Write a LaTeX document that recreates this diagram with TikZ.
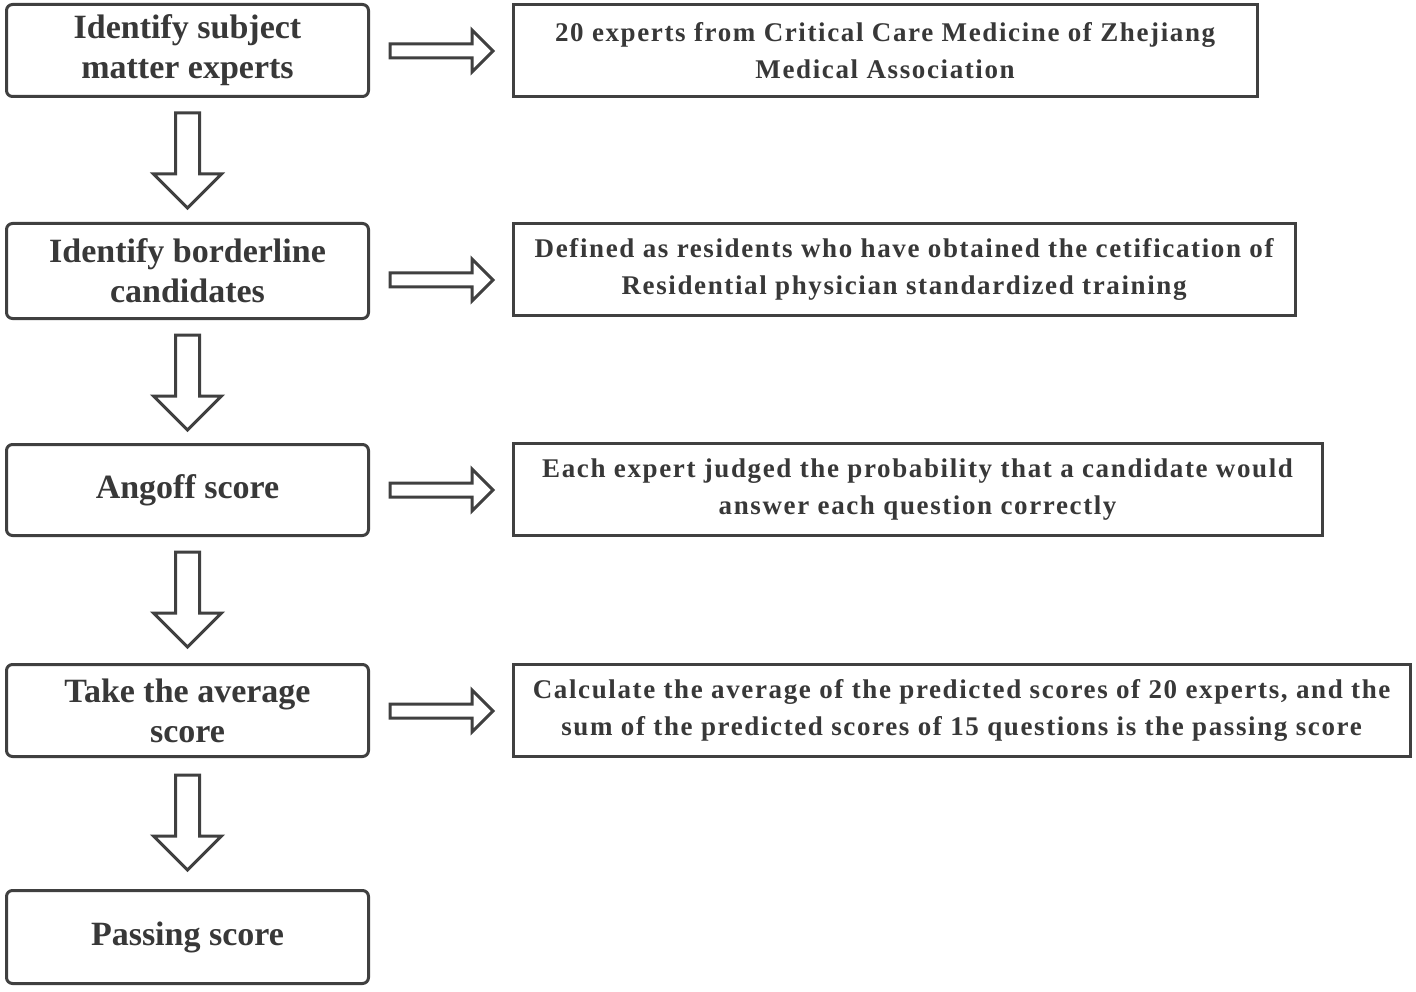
\documentclass[tikz,border=0pt]{standalone}
\usepackage{fontspec}
\setmainfont{Liberation Serif}
\newfontfamily\rfont[LetterSpace=6]{Liberation Serif}
\usetikzlibrary{calc}
\definecolor{ink}{HTML}{383838}
\definecolor{edge}{HTML}{404040}
\begin{document}
\begin{tikzpicture}[x=1pt,y=-1pt,
  lbox/.style={draw=edge, line width=3pt, rounded corners=6pt, minimum width=362pt, inner sep=0pt, align=center, text=ink, font=\fontsize{34}{40}\selectfont\bfseries},
  rbox/.style={draw=edge, line width=3.2pt, anchor=west, inner sep=0pt, align=center, text=ink, font=\rfont\fontsize{27}{37}\selectfont\bfseries},
  barrow/.style={draw=edge, line width=3pt, fill=white, line join=miter},
  pics/darrow/.style={code={\draw[barrow] (-12,0) -- (-12,61) -- (-34,61) -- (0,95) -- (34,61) -- (12,61) -- (12,0) -- cycle;}},
  pics/rarrow/.style={code={\draw[barrow] (0,-7) -- (82,-7) -- (82,-21) -- (103,0) -- (82,21) -- (82,7) -- (0,7) -- cycle;}}
]
\useasboundingbox (0,0) rectangle (1416,992);
\fill[white] (0,0) rectangle (1416,992);

\node[lbox, minimum height=92pt] (L1) at (187.5,50.5) {Identify subject\\matter experts};
\node[lbox, minimum height=95pt] (L2) at (187.5,271) {Identify borderline\\candidates};
\node[lbox, minimum height=91pt] (L3) at (187.5,490) {Angoff score};
\node[lbox, minimum height=92pt] (L4) at (187.5,710.5) {Take the average\\score};
\node[lbox, minimum height=93pt] (L5) at (187.5,937) {Passing score};

\node[rbox, minimum width=744pt, minimum height=92pt] (R1) at (511.5,50.5) {20 experts from Critical Care Medicine of Zhejiang\\Medical Association};
\node[rbox, minimum width=782pt, minimum height=92pt] (R2) at (511.5,269.5) {Defined as residents who have obtained the cetification of\\Residential physician standardized training};
\node[rbox, minimum width=809pt, minimum height=92pt] (R3) at (511.5,489.5) {Each expert judged the probability that a candidate would\\answer each question correctly};
\node[rbox, minimum width=897pt, minimum height=92pt] (R4) at (511.5,710.5) {Calculate the average of the predicted scores of 20 experts, and the\\sum of the predicted scores of 15 questions is the passing score};

\pic at ($(L1.south)+(0,15)$) {darrow};
\pic at ($(L2.south)+(0,15)$) {darrow};
\pic at ($(L3.south)+(0,15)$) {darrow};
\pic at ($(L4.south)+(0,17)$) {darrow};

\pic at ($(L1.east)+(20,0.5)$) {rarrow};
\pic at ($(L2.east)+(20,9)$) {rarrow};
\pic at ($(L3.east)+(20,0)$) {rarrow};
\pic at ($(L4.east)+(20,0.5)$) {rarrow};
\end{tikzpicture}
\end{document}
